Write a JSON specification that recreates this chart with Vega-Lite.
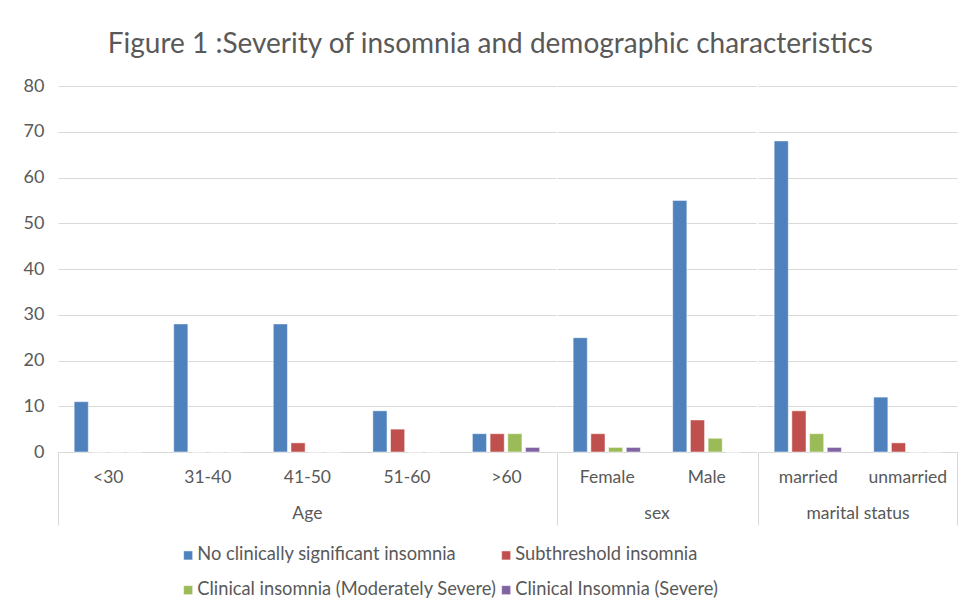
{
  "$schema": "https://vega.github.io/schema/vega-lite/v6.json",
  "padding": {"left": 23, "top": 31, "right": 10, "bottom": 10},
  "background": "white",
  "title": {
    "text": "Figure 1 :Severity of insomnia and demographic characteristics",
    "font": "Lato",
    "fontSize": 28,
    "fontWeight": "normal",
    "color": "#595959",
    "anchor": "middle",
    "offset": 18
  },
  "data": {
    "values": [
      {"group": "Age", "category": "<30", "series": "No clinically significant insomnia", "value": 11},
      {"group": "Age", "category": "<30", "series": "Subthreshold insomnia", "value": 0},
      {"group": "Age", "category": "<30", "series": "Clinical insomnia (Moderately Severe)", "value": 0},
      {"group": "Age", "category": "<30", "series": "Clinical Insomnia (Severe)", "value": 0},
      {"group": "Age", "category": "31-40", "series": "No clinically significant insomnia", "value": 28},
      {"group": "Age", "category": "31-40", "series": "Subthreshold insomnia", "value": 0},
      {"group": "Age", "category": "31-40", "series": "Clinical insomnia (Moderately Severe)", "value": 0},
      {"group": "Age", "category": "31-40", "series": "Clinical Insomnia (Severe)", "value": 0},
      {"group": "Age", "category": "41-50", "series": "No clinically significant insomnia", "value": 28},
      {"group": "Age", "category": "41-50", "series": "Subthreshold insomnia", "value": 2},
      {"group": "Age", "category": "41-50", "series": "Clinical insomnia (Moderately Severe)", "value": 0},
      {"group": "Age", "category": "41-50", "series": "Clinical Insomnia (Severe)", "value": 0},
      {"group": "Age", "category": "51-60", "series": "No clinically significant insomnia", "value": 9},
      {"group": "Age", "category": "51-60", "series": "Subthreshold insomnia", "value": 5},
      {"group": "Age", "category": "51-60", "series": "Clinical insomnia (Moderately Severe)", "value": 0},
      {"group": "Age", "category": "51-60", "series": "Clinical Insomnia (Severe)", "value": 0},
      {"group": "Age", "category": ">60", "series": "No clinically significant insomnia", "value": 4},
      {"group": "Age", "category": ">60", "series": "Subthreshold insomnia", "value": 4},
      {"group": "Age", "category": ">60", "series": "Clinical insomnia (Moderately Severe)", "value": 4},
      {"group": "Age", "category": ">60", "series": "Clinical Insomnia (Severe)", "value": 1},
      {"group": "sex", "category": "Female", "series": "No clinically significant insomnia", "value": 25},
      {"group": "sex", "category": "Female", "series": "Subthreshold insomnia", "value": 4},
      {"group": "sex", "category": "Female", "series": "Clinical insomnia (Moderately Severe)", "value": 1},
      {"group": "sex", "category": "Female", "series": "Clinical Insomnia (Severe)", "value": 1},
      {"group": "sex", "category": "Male", "series": "No clinically significant insomnia", "value": 55},
      {"group": "sex", "category": "Male", "series": "Subthreshold insomnia", "value": 7},
      {"group": "sex", "category": "Male", "series": "Clinical insomnia (Moderately Severe)", "value": 3},
      {"group": "sex", "category": "Male", "series": "Clinical Insomnia (Severe)", "value": 0},
      {"group": "marital status", "category": "married", "series": "No clinically significant insomnia", "value": 68},
      {"group": "marital status", "category": "married", "series": "Subthreshold insomnia", "value": 9},
      {"group": "marital status", "category": "married", "series": "Clinical insomnia (Moderately Severe)", "value": 4},
      {"group": "marital status", "category": "married", "series": "Clinical Insomnia (Severe)", "value": 1},
      {"group": "marital status", "category": "unmarried", "series": "No clinically significant insomnia", "value": 12},
      {"group": "marital status", "category": "unmarried", "series": "Subthreshold insomnia", "value": 2},
      {"group": "marital status", "category": "unmarried", "series": "Clinical insomnia (Moderately Severe)", "value": 0},
      {"group": "marital status", "category": "unmarried", "series": "Clinical Insomnia (Severe)", "value": 0}
    ]
  },
  "spacing": 0,
  "resolve": {"scale": {"y": "shared", "color": "shared"}},
  "hconcat": [
    {
      "width": 497.8,
      "height": 366,
      "transform": [{"filter": "datum.group === 'Age'"}],
      "mark": {"type": "bar"},
      "encoding": {
        "x": {
          "field": "category", "type": "nominal", "sort": null, "title": "Age",
          "scale": {"paddingInner": 0, "paddingOuter": 0},
          "axis": {
            "labelAngle": 0, "labelFont": "Lato", "labelFontSize": 17.5, "labelColor": "#595959",
            "domainColor": "#D9D9D9", "tickBand": "extent", "tickSize": 73, "tickColor": "#D9D9D9",
            "tickOpacity": {"condition": {"test": "datum.index < 0", "value": 1}, "value": 0},
            "labelPadding": -57, "grid": false,
            "titleFont": "Lato", "titleFontSize": 17.5, "titleFontWeight": "normal", "titleColor": "#595959", "titlePadding": -21
          }
        },
        "xOffset": {"field": "series", "type": "nominal", "sort": null, "scale": {"paddingInner": 0.2, "paddingOuter": 0.9125}},
        "y": {
          "field": "value", "type": "quantitative", "title": null,
          "scale": {"domain": [0, 80]},
          "axis": {
            "values": [0, 10, 20, 30, 40, 50, 60, 70, 80], "domain": false, "ticks": false, "labelPadding": 14,
            "labelFont": "Lato", "labelFontSize": 18, "labelColor": "#595959", "gridColor": "#D9D9D9"
          }
        },
        "color": {"field": "series", "type": "nominal", "sort": null, "title": null}
      }
    },
    {
      "width": 199.1,
      "height": 366,
      "transform": [{"filter": "datum.group === 'sex'"}],
      "mark": {"type": "bar"},
      "encoding": {
        "x": {
          "field": "category", "type": "nominal", "sort": null, "title": "sex",
          "scale": {"paddingInner": 0, "paddingOuter": 0},
          "axis": {
            "labelAngle": 0, "labelFont": "Lato", "labelFontSize": 17.5, "labelColor": "#595959",
            "domainColor": "#D9D9D9", "tickBand": "extent", "tickSize": 73, "tickColor": "#D9D9D9",
            "tickOpacity": {"condition": {"test": "datum.index < 0", "value": 1}, "value": 0},
            "labelPadding": -57, "grid": false,
            "titleFont": "Lato", "titleFontSize": 17.5, "titleFontWeight": "normal", "titleColor": "#595959", "titlePadding": -21
          }
        },
        "xOffset": {"field": "series", "type": "nominal", "sort": null, "scale": {"paddingInner": 0.2, "paddingOuter": 0.9125}},
        "y": {
          "field": "value", "type": "quantitative", "title": null,
          "scale": {"domain": [0, 80]},
          "axis": {"labels": false, "values": [0, 10, 20, 30, 40, 50, 60, 70, 80], "domain": false, "ticks": false, "gridColor": "#D9D9D9"}
        },
        "color": {"field": "series", "type": "nominal", "sort": null, "title": null}
      }
    },
    {
      "width": 199.1,
      "height": 366,
      "transform": [{"filter": "datum.group === 'marital status'"}],
      "mark": {"type": "bar"},
      "encoding": {
        "x": {
          "field": "category", "type": "nominal", "sort": null, "title": "marital status",
          "scale": {"paddingInner": 0, "paddingOuter": 0},
          "axis": {
            "labelAngle": 0, "labelFont": "Lato", "labelFontSize": 17.5, "labelColor": "#595959",
            "domainColor": "#D9D9D9", "tickBand": "extent", "tickSize": 73, "tickColor": "#D9D9D9",
            "tickOpacity": {"condition": {"test": "datum.index < 0 || datum.value === 'unmarried'", "value": 1}, "value": 0},
            "labelPadding": -57, "grid": false,
            "titleFont": "Lato", "titleFontSize": 17.5, "titleFontWeight": "normal", "titleColor": "#595959", "titlePadding": -21
          }
        },
        "xOffset": {"field": "series", "type": "nominal", "sort": null, "scale": {"paddingInner": 0.2, "paddingOuter": 0.9125}},
        "y": {
          "field": "value", "type": "quantitative", "title": null,
          "scale": {"domain": [0, 80]},
          "axis": {"labels": false, "values": [0, 10, 20, 30, 40, 50, 60, 70, 80], "domain": false, "ticks": false, "gridColor": "#D9D9D9"}
        },
        "color": {"field": "series", "type": "nominal", "sort": null, "title": null}
      }
    }
  ],
  "config": {
    "view": {"stroke": null},
    "bar": {"stroke": "white", "strokeWidth": 0.5},
    "range": {"category": ["#4F81BD", "#C0504D", "#9BBB59", "#8064A2"]},
    "legend": {
      "orient": "none",
      "legendX": 121,
      "legendY": 460,
      "direction": "horizontal",
      "columns": 2,
      "symbolType": "square",
      "symbolSize": 81,
      "symbolStrokeWidth": 0,
      "labelFont": "Lato",
      "labelFontSize": 18.3,
      "labelColor": "#595959",
      "labelLimit": 400,
      "labelOffset": 0,
      "rowPadding": 16,
      "columnPadding": -5
    }
  }
}
